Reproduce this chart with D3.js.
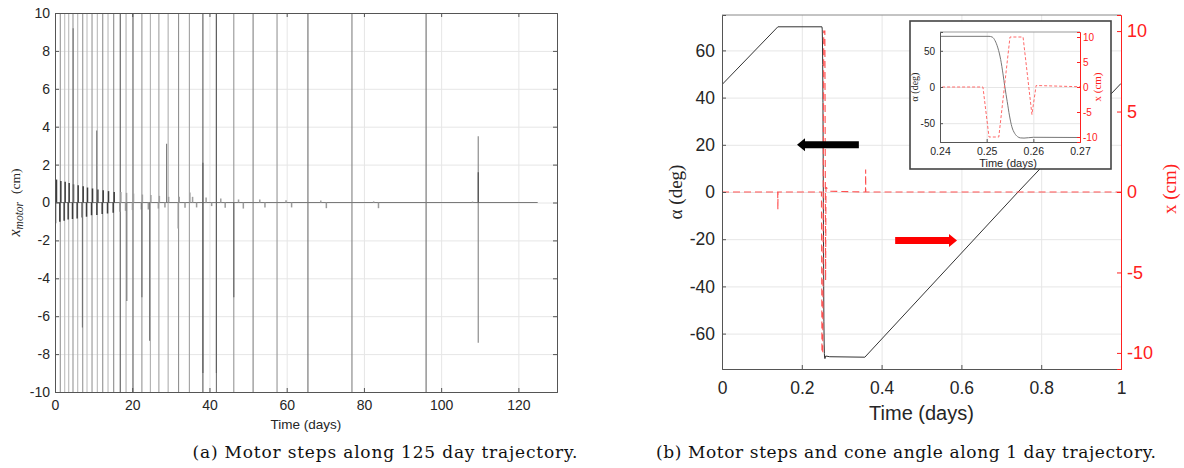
<!DOCTYPE html>
<html>
<head>
<script src="https://d3js.org/d3.v7.min.js"></script>
<style>
  body { margin: 0; background: #fff; }
  svg text { font-family: "Liberation Sans", Arial, sans-serif; fill: #262626; }
  .serif { font-family: "Liberation Serif", "Times New Roman", serif; }
  .cap { font-family: "DejaVu Serif", Georgia, serif; fill: #111; }
</style>
</head>
<body>
<svg id="fig" width="1184" height="468"></svg>
<script>
// ---------- (a) 125 day run ----------
const leftXTicks = [0, 20, 40, 60, 80, 100, 120];
const leftYTicks = [-10, -8, -6, -4, -2, 0, 2, 4, 6, 8, 10];

// big motor steps (lines run off the axis)
const stepDays = [1.37, 2.51, 3.55, 4.66, 5.88, 7.18, 8.29, 9.59, 10.96, 12.36, 13.73, 15.2,
  16.9, 18.4, 20.2, 22.5, 24.7, 26.9, 29.3, 32.0, 34.8, 38.3, 41.8, 46.3, 51.3, 57.5,
  65.5, 76.9, 96.1];
const stepTop = stepDays.map(() => 12);
const stepBot = stepDays.map(() => -12);

// shorter steps drawn over them
const partDays = [4.7, 7.1, 10.8, 18.6, 22.5, 24.5, 28.9, 38.3, 41.8, 46.3, 109.6, 109.6];
const partTop  = [9.2, 0, 3.8, 0, 0, 0, 3.1, 2.1, 10, 0, 3.5, 1.6];
const partBot  = [0, -6.6, 0, -5.2, -5.0, -7.3, 0, -9, -9, -5.0, -7.4, 0];

// small steps around zero
const upDays = [0.26, 1.38, 2.5, 3.54, 4.66, 5.87, 7.17, 8.29, 9.59, 10.97, 12.35, 13.73, 15.2,
  16.93, 18.4, 20.2, 22.5, 24.7, 26.9, 29.3, 32.04, 34.8, 35.5, 39.0, 42.8, 47.4, 52.9,
  59.7, 68.7, 82.4, 108];
const upCm = [1.21, 1.14, 1.09, 1.03, 0.96, 0.91, 0.86, 0.79, 0.74, 0.68, 0.65, 0.6, 0.56,
  0.56, 0.51, 0.47, 0.42, 0.39, 0.35, 0.3, 0.3, 0.53, 0.3, 0.26, 0.21, 0.16, 0.16,
  0.12, 0.1, 0.06, 0.05];
const downDays = [0.26, 1.38, 2.5, 3.54, 4.66, 5.87, 7.17, 8.29, 9.59, 10.97, 12.35, 13.73,
  15.2, 16.93, 18.4, 20.2, 22.5, 24.3, 26.9, 28.6, 32.04, 33.8, 36.8, 40.7, 44.2, 48.9,
  54.5, 61.4, 70.4, 83.9];
const downCm = [-1.1, -1.02, -0.96, -0.9, -0.87, -0.84, -0.79, -0.75, -0.67, -0.66, -0.61,
  -0.58, -0.54, -0.49, -0.44, -0.4, -0.37, -0.37, -0.32, -0.26, -1.37, -0.28, -0.26,
  -0.19, -0.28, -0.32, -0.26, -0.26, -0.3, -0.3];
const runEnd = 125;

// ---------- (b) 1 day run ----------
const rightXTicks = [0, 0.2, 0.4, 0.6, 0.8, 1];
const rightYTicks = [-60, -40, -20, 0, 20, 40, 60];
const rightY2Ticks = [-10, -5, 0, 5, 10];
const insetXTicks = [0.24, 0.25, 0.26, 0.27];
const insetYTicks = [-50, 0, 50];
const insetY2Ticks = [-10, -5, 0, 5, 10];

const alphaT = [0, 0.14, 0.2505, 0.2512, 0.2518, 0.2524, 0.2530, 0.2535, 0.2539, 0.2544,
  0.2549, 0.2554, 0.2560, 0.2566, 0.2572, 0.2580, 0.2600, 0.2700, 0.358, 0.742, 1];
const alphaDeg = [45.5, 70, 70, 69, 64, 54, 38, 18, 0, -20, -40, -55, -64, -68.5, -70.3,
  -70.6, -69.5, -69.8, -70, 0, 46];

const motorT = [0, 0.1396, 0.14, 0.1404, 0.2492, 0.2505, 0.2526, 0.2550, 0.2578, 0.2597,
  0.2606, 0.2700, 0.3596, 0.36, 0.3604, 1];
const motorCm = [0, 0, -1.1, 0, 0, -10, -10, 10, 10, -5.5, 0.3, 0.05, 0, 1.4, 0, 0];

// direction arrows (time, angle)
const arrowFrom = [0.343, 0.434];
const arrowTo = [0.188, 0.589];
const arrowDeg = [20, -20.5];

// ---------- styles ----------
const stepGray = [150, 190, 185, 150, 185, 150, 190, 150, 185, 145, 185, 140,
  90, 175, 100, 150, 175, 160, 175, 145, 160, 90, 115, 150, 130, 150, 110, 130, 110];
const partGray = [120, 115, 120, 115, 110, 115, 120, 95, 95, 100, 130, 70];
const axisCol = "#555";
const gridCol = "#e6e6e6";
const red = "#ff2020";
const grey = v => `rgb(${v},${v},${v})`;

const svg = d3.select("#fig");
const defs = svg.append("defs");
function clip(id, x0, y0, x1, y1) {
  defs.append("clipPath").attr("id", id).append("rect")
    .attr("x", x0).attr("y", y0).attr("width", x1 - x0).attr("height", y1 - y0);
}
function styleAxis(g, col, fs) {
  g.select(".domain").attr("stroke", col);
  g.selectAll(".tick line").attr("stroke", col);
  g.selectAll(".tick text").style("font-size", fs + "px").style("fill", col === red ? red : "#262626");
}
const fmt = d => String(d).replace("\u2212", "-");

// ================= left panel =================
const xL = d3.scaleLinear().domain([0, 130]).range([55, 557]);
const yL = d3.scaleLinear().domain([-10, 10]).range([392, 13]);
const [lx0, lx1] = xL.range(), [ly1, ly0] = yL.range();
clip("clipL", lx0, ly0, lx1, ly1);

svg.append("g").attr("transform", `translate(0,${ly1})`)
  .call(d3.axisBottom(xL).tickValues(leftXTicks).tickSize(-(ly1 - ly0)).tickFormat(""))
  .call(g => { g.select(".domain").remove(); g.selectAll("line").attr("stroke", gridCol); });
svg.append("g").attr("transform", `translate(${lx0},0)`)
  .call(d3.axisLeft(yL).tickValues(leftYTicks).tickSize(-(lx1 - lx0)).tickFormat(""))
  .call(g => { g.select(".domain").remove(); g.selectAll("line").attr("stroke", gridCol); });

const pL = svg.append("g").attr("clip-path", "url(#clipL)");
pL.selectAll(".step").data(stepDays).join("line")
  .attr("x1", d => xL(d)).attr("x2", d => xL(d))
  .attr("y1", (d, i) => yL(stepTop[i])).attr("y2", (d, i) => yL(stepBot[i]))
  .attr("stroke", (d, i) => grey(stepGray[i])).attr("stroke-width", 1.1);
pL.append("line").attr("x1", xL(0)).attr("x2", xL(runEnd)).attr("y1", yL(0)).attr("y2", yL(0))
  .attr("stroke", "#7a7a7a").attr("stroke-width", 1);
pL.selectAll(".up").data(upDays).join("line")
  .attr("x1", d => xL(d) + 0.5).attr("x2", d => xL(d) + 0.5)
  .attr("y1", yL(0)).attr("y2", (d, i) => yL(upCm[i]))
  .attr("stroke", d => d < 16 ? "#3c3c3c" : "#a0a0a0").attr("stroke-width", 1.5);
pL.selectAll(".down").data(downDays).join("line")
  .attr("x1", d => xL(d) - 0.5).attr("x2", d => xL(d) - 0.5)
  .attr("y1", yL(0)).attr("y2", (d, i) => yL(downCm[i]))
  .attr("stroke", d => d < 16 ? "#3c3c3c" : "#9a9a9a").attr("stroke-width", 1.5);
pL.selectAll(".part").data(partDays).join("line")
  .attr("x1", d => xL(d)).attr("x2", d => xL(d))
  .attr("y1", (d, i) => yL(partTop[i])).attr("y2", (d, i) => yL(partBot[i]))
  .attr("stroke", (d, i) => grey(partGray[i])).attr("stroke-width", 1.1);

svg.append("g").attr("transform", `translate(0,${ly1})`)
  .call(d3.axisBottom(xL).tickValues(leftXTicks).tickSize(-4).tickPadding(8).tickFormat(fmt))
  .call(g => styleAxis(g, axisCol, 14));
svg.append("g").attr("transform", `translate(${lx0},0)`)
  .call(d3.axisLeft(yL).tickValues(leftYTicks).tickSize(-4).tickPadding(5).tickFormat(fmt))
  .call(g => styleAxis(g, axisCol, 14));
svg.append("g").attr("transform", `translate(0,${ly0})`)
  .call(d3.axisTop(xL).tickValues(leftXTicks).tickSize(-4).tickFormat(""))
  .call(g => styleAxis(g, axisCol, 14));
svg.append("g").attr("transform", `translate(${lx1},0)`)
  .call(d3.axisRight(yL).tickValues(leftYTicks).tickSize(-4).tickFormat(""))
  .call(g => styleAxis(g, axisCol, 14));

svg.append("text").attr("x", (lx0 + lx1) / 2).attr("y", 429).attr("text-anchor", "middle")
  .style("font-size", "13.5px").text("Time (days)");
const yl = svg.append("text").attr("class", "serif")
  .attr("transform", `translate(20,${(ly0 + ly1) / 2}) rotate(-90)`)
  .attr("text-anchor", "middle");
yl.append("tspan").style("font-style", "italic").style("font-size", "16px").text("x");
yl.append("tspan").style("font-style", "italic").style("font-size", "11.5px").attr("dy", 3).text("motor");
yl.append("tspan").style("font-size", "13.5px").attr("dy", -3).attr("dx", 8).text("(cm)");

// ================= right panel =================
const xR = d3.scaleLinear().domain([0, 1]).range([722, 1121]);
const yR = d3.scaleLinear().domain([-75, 75]).range([369, 15]);
const yR2 = d3.scaleLinear().domain([-11, 11]).range([369, 15]);
const [rx0, rx1] = xR.range(), [ry1, ry0] = yR.range();
clip("clipR", rx0, ry0, rx1, ry1);

svg.append("g").attr("transform", `translate(0,${ry1})`)
  .call(d3.axisBottom(xR).tickValues(rightXTicks).tickSize(-(ry1 - ry0)).tickFormat(""))
  .call(g => { g.select(".domain").remove(); g.selectAll("line").attr("stroke", gridCol); });
svg.append("g").attr("transform", `translate(${rx0},0)`)
  .call(d3.axisLeft(yR).tickValues(rightYTicks).tickSize(-(rx1 - rx0)).tickFormat(""))
  .call(g => { g.select(".domain").remove(); g.selectAll("line").attr("stroke", gridCol); });

const alphaPts = alphaT.map((t, i) => [t, alphaDeg[i]]);
const motorPts = motorT.map((t, i) => [t, motorCm[i]]);

const pR = svg.append("g").attr("clip-path", "url(#clipR)");
pR.append("path").datum(alphaPts)
  .attr("d", d3.line().x(d => xR(d[0])).y(d => yR(d[1])))
  .attr("fill", "none").attr("stroke", "#333").attr("stroke-width", 1);
pR.append("path").datum(motorPts)
  .attr("d", d3.line().x(d => xR(d[0])).y(d => yR2(d[1])))
  .attr("fill", "none").attr("stroke", "#ff5050").attr("stroke-width", 1.1)
  .attr("stroke-dasharray", "7,4");

// arrows
const arrowCol = ["#000", "#f00"];
arrowFrom.forEach((t0, i) => {
  const x0 = xR(t0), x1 = xR(arrowTo[i]), y = yR(arrowDeg[i]);
  const dir = Math.sign(x1 - x0), hl = 8, sh = 3.5, hh = 6.5;
  const p = d3.path();
  p.moveTo(x0, y - sh); p.lineTo(x1 - dir * hl, y - sh); p.lineTo(x1 - dir * hl, y - hh);
  p.lineTo(x1, y); p.lineTo(x1 - dir * hl, y + hh); p.lineTo(x1 - dir * hl, y + sh);
  p.lineTo(x0, y + sh); p.closePath();
  svg.append("path").attr("d", p.toString()).attr("fill", arrowCol[i]);
});

svg.append("line").attr("x1", rx0).attr("x2", rx1).attr("y1", ry0).attr("y2", ry0)
  .attr("stroke", "#888");
svg.append("g").attr("transform", `translate(0,${ry1})`)
  .call(d3.axisBottom(xR).tickValues(rightXTicks).tickSize(-4).tickPadding(13).tickFormat(fmt))
  .call(g => styleAxis(g, axisCol, 17.5));
svg.append("g").attr("transform", `translate(${rx0},0)`)
  .call(d3.axisLeft(yR).tickValues(rightYTicks).tickSize(-4).tickPadding(7).tickFormat(fmt))
  .call(g => styleAxis(g, axisCol, 17.5));
svg.append("g").attr("transform", `translate(${rx1},0)`)
  .call(d3.axisRight(yR2).tickValues(rightY2Ticks).tickSize(-4).tickPadding(6).tickFormat(fmt))
  .call(g => styleAxis(g, red, 18));

svg.append("text").attr("x", (rx0 + rx1) / 2).attr("y", 420).attr("text-anchor", "middle")
  .style("font-size", "20px").text("Time (days)");
svg.append("text").attr("class", "serif")
  .attr("transform", `translate(682,${(ry0 + ry1) / 2}) rotate(-90)`)
  .attr("text-anchor", "middle").style("font-size", "19px").text("\u03b1  (deg)");
svg.append("text").attr("class", "serif")
  .attr("transform", `translate(1176,${(ry0 + ry1) / 2 - 3}) rotate(-90)`)
  .attr("text-anchor", "middle").style("font-size", "19px").style("fill", red).text("x  (cm)");

// ================= inset =================
svg.append("rect").attr("x", 910).attr("y", 21).attr("width", 201).attr("height", 148)
  .attr("fill", "#fff").attr("stroke", "#444").attr("stroke-width", 1.6);
const xI = d3.scaleLinear().domain([0.24, 0.27]).range([940, 1080]);
const yI = d3.scaleLinear().domain([-76, 76]).range([142, 32]);
const yI2 = d3.scaleLinear().domain([-11, 11]).range([142, 32]);
const [ix0, ix1] = xI.range(), [iy1, iy0] = yI.range();
clip("clipI", ix0, iy0, ix1, iy1);

svg.append("g").attr("transform", `translate(0,${iy1})`)
  .call(d3.axisBottom(xI).tickValues(insetXTicks).tickSize(-(iy1 - iy0)).tickFormat(""))
  .call(g => { g.select(".domain").remove(); g.selectAll("line").attr("stroke", gridCol); });
svg.append("g").attr("transform", `translate(${ix0},0)`)
  .call(d3.axisLeft(yI).tickValues(insetYTicks).tickSize(-(ix1 - ix0)).tickFormat(""))
  .call(g => { g.select(".domain").remove(); g.selectAll("line").attr("stroke", gridCol); });

const pI = svg.append("g").attr("clip-path", "url(#clipI)");
pI.append("path").datum(alphaPts)
  .attr("d", d3.line().curve(d3.curveMonotoneX).x(d => xI(d[0])).y(d => yI(d[1])))
  .attr("fill", "none").attr("stroke", "#777").attr("stroke-width", 1);
pI.append("path").datum(motorPts)
  .attr("d", d3.line().x(d => xI(d[0])).y(d => yI2(d[1])))
  .attr("fill", "none").attr("stroke", "#ff6a6a").attr("stroke-width", 1)
  .attr("stroke-dasharray", "3,2");

svg.append("line").attr("x1", ix0).attr("x2", ix1).attr("y1", iy0).attr("y2", iy0)
  .attr("stroke", "#999");
svg.append("g").attr("transform", `translate(0,${iy1})`)
  .call(d3.axisBottom(xI).tickValues(insetXTicks).tickSize(-3).tickPadding(6).tickFormat(fmt))
  .call(g => styleAxis(g, axisCol, 10.5));
svg.append("g").attr("transform", `translate(${ix0},0)`)
  .call(d3.axisLeft(yI).tickValues(insetYTicks).tickSize(-3).tickPadding(5).tickFormat(fmt))
  .call(g => styleAxis(g, axisCol, 10));
svg.append("g").attr("transform", `translate(${ix1},0)`)
  .call(d3.axisRight(yI2).tickValues(insetY2Ticks).tickSize(-3).tickPadding(3).tickFormat(fmt))
  .call(g => styleAxis(g, red, 10));
svg.append("text").attr("x", (ix0 + ix1) / 2 - 2).attr("y", 167).attr("text-anchor", "middle")
  .style("font-size", "11px").text("Time (days)");
svg.append("text").attr("class", "serif")
  .attr("transform", `translate(918,${(iy0 + iy1) / 2}) rotate(-90)`)
  .attr("text-anchor", "middle").style("font-size", "10px").text("\u03b1 (deg)");
svg.append("text").attr("class", "serif")
  .attr("transform", `translate(1101,${(iy0 + iy1) / 2}) rotate(-90)`)
  .attr("text-anchor", "middle").style("font-size", "11px").style("fill", red).text("x (cm)");

// ================= captions =================
svg.append("text").attr("class", "cap").attr("x", 385).attr("y", 458).attr("text-anchor", "middle")
  .attr("textLength", 385).attr("lengthAdjust", "spacing")
  .style("font-size", "17px").text("(a) Motor steps along 125 day trajectory.");
svg.append("text").attr("class", "cap").attr("x", 906).attr("y", 458).attr("text-anchor", "middle")
  .attr("textLength", 500).attr("lengthAdjust", "spacing")
  .style("font-size", "17px").text("(b) Motor steps and cone angle along 1 day trajectory.");
</script>
</body>
</html>
